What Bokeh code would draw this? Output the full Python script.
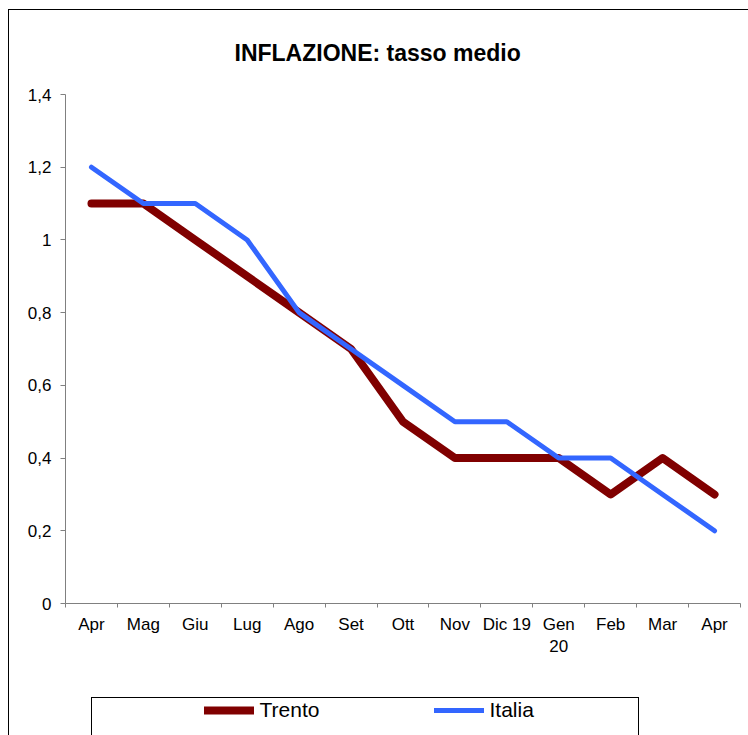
from bokeh.plotting import figure
from bokeh.models import (Range1d, FixedTicker, CustomJSTickFormatter, Legend, LegendItem,
                          ColumnDataSource, InlineStyleSheet)
from bokeh.embed import file_html
from bokeh.resources import INLINE

months = ["Apr", "Mag", "Giu", "Lug", "Ago", "Set", "Ott", "Nov", "Dic 19", "Gen\n20", "Feb", "Mar", "Apr"]
trento = [1.1, 1.1, 1.0, 0.9, 0.8, 0.7, 0.5, 0.4, 0.4, 0.4, 0.3, 0.4, 0.3]
italia = [1.2, 1.1, 1.1, 1.0, 0.8, 0.7, 0.6, 0.5, 0.5, 0.4, 0.4, 0.3, 0.2]
y_ticks = [0, 0.2, 0.4, 0.6, 0.8, 1.0, 1.2, 1.4]
title_text = "INFLAZIONE: tasso medio"

FONT = "Liberation Sans"
xpos = [i + 0.5 for i in range(len(months))]
src = ColumnDataSource(dict(x=xpos, trento=trento, italia=italia))

p = figure(frame_width=675, frame_height=509, output_backend="svg", toolbar_location=None,
           x_range=Range1d(0, len(months)), y_range=Range1d(0, 1.4),
           min_border_left=65, min_border_right=8, min_border_top=94, min_border_bottom=180)

p.title.text = title_text
p.title.text_font = FONT
p.title.text_font_size = "23px"
p.title.text_font_style = "bold"
p.title.text_color = "black"
p.title.align = "left"
p.title.offset = 169
p.title.standoff = 58

p.grid.visible = False
p.outline_line_color = None
p.background_fill_color = "white"
p.border_fill_color = "white"

r1 = p.line("x", "trento", source=src, line_color="#800000", line_width=8,
            line_cap="round", line_join="round")
r2 = p.line("x", "italia", source=src, line_color="#3366FF", line_width=5,
            line_cap="round", line_join="round")

ax = p.xaxis[0]
ax.ticker = FixedTicker(ticks=xpos, minor_ticks=list(range(len(months) + 1)))
ax.formatter = CustomJSTickFormatter(args=dict(labels=months),
                                     code="const i = Math.round(tick - 0.5); return labels[i] ?? '';")
ax.major_tick_out = 0
ax.major_tick_in = 0
ax.minor_tick_out = 4
ax.minor_tick_in = 0
ax.major_label_standoff = 7
ax.major_label_text_font = FONT
ax.major_label_text_font_size = "17px"
ax.major_label_text_color = "black"
ax.axis_line_color = "#808080"
ax.minor_tick_line_color = "#808080"

ay = p.yaxis[0]
ay.ticker = FixedTicker(ticks=y_ticks, minor_ticks=[])
ay.formatter = CustomJSTickFormatter(code="return (Math.round(tick*10)/10).toString().replace('.', ',');")
ay.major_tick_out = 5
ay.major_tick_in = 0
ay.minor_tick_out = 0
ay.minor_tick_in = 0
ay.major_label_standoff = 9
ay.major_label_text_font = FONT
ay.major_label_text_font_size = "17px"
ay.major_label_text_color = "black"
ay.axis_line_color = "#808080"
ay.major_tick_line_color = "#808080"

legend = Legend(items=[LegendItem(label="Trento", renderers=[r1]),
                       LegendItem(label="Italia", renderers=[r2])],
                orientation="horizontal", location="center",
                glyph_width=50, glyph_height=24, label_height=24, label_width=112,
                label_standoff=6, spacing=62, padding=0, margin=16,
                border_line_alpha=0, background_fill_alpha=0,
                label_text_font=FONT, label_text_font_size="21px", label_text_color="black")
p.add_layout(legend, "below")

css = """
:host { position: relative; height: 735px !important; overflow: hidden; }
:host::before { content: ""; position: absolute; left: 8px; top: 9px; width: 740px; height: 726px;
  border-left: 1px solid black; border-top: 1px solid black; box-sizing: border-box;
  pointer-events: none; z-index: 10; }
:host::after { content: ""; position: absolute; left: 91px; top: 697px; width: 548px; height: 38px;
  border-left: 1px solid black; border-top: 1px solid black; border-right: 1px solid black;
  box-sizing: border-box; pointer-events: none; z-index: 10; }
"""
p.stylesheets = [InlineStyleSheet(css=css)]

open("out.html", "w").write(file_html(p, INLINE))
